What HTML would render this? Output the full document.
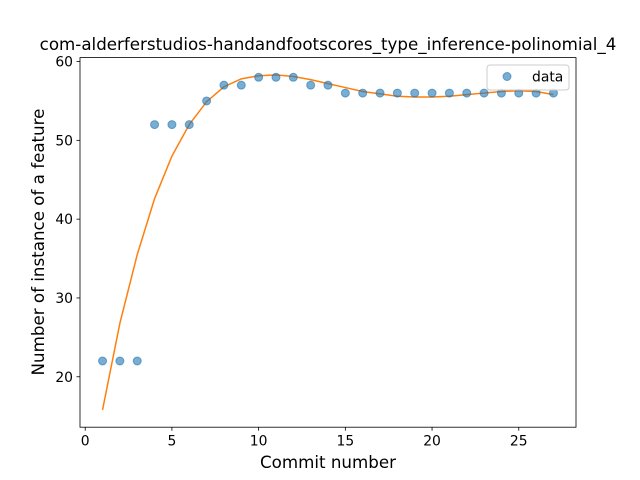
<!DOCTYPE html>
<html><head><meta charset="utf-8"><style>
body{margin:0;background:#fff;}
svg{display:block;font-family:"DejaVu Sans","Liberation Sans",sans-serif;}
</style></head><body>
<svg id="chart" width="640" height="480"></svg>
<script>
const xs=[1,2,3,4,5,6,7,8,9,10,11,12,13,14,15,16,17,18,19,20,21,22,23,24,25,26,27];
const dataVals=[22,22,22,52,52,52,55,57,57,58,58,58,57,57,56,56,56,56,56,56,56,56,56,56,56,56,56];
const fitVals=[15.8,26.8,35.5,42.6,48.0,52.0,54.9,56.8,57.8,58.2,58.3,58.1,57.7,57.2,56.7,56.2,55.9,55.6,55.5,55.5,55.6,55.8,56.0,56.2,56.3,56.2,55.8];
const xTicks=[0,5,10,15,20,25];
const yTicks=[20,30,40,50,60];
const L=80,R=576,T=57.6,B=427.2,xmin=-0.3,xmax=28.3,ymin=13.6,ymax=60.5;
const X=v=>L+(v-xmin)/(xmax-xmin)*(R-L);
const Y=v=>B-(v-ymin)/(ymax-ymin)*(B-T);
const svg=document.getElementById('chart');
const NS='http://www.w3.org/2000/svg';
function mk(tag,attrs,parent){const e=document.createElementNS(NS,tag);for(const k in attrs)e.setAttribute(k,attrs[k]);(parent||svg).appendChild(e);return e;}
let d=xs.map((x,i)=>(i?'L':'M')+X(x)+','+Y(fitVals[i])).join('');
const line=mk('path',{d:d,fill:'none',stroke:'#ff7f0e','stroke-width':1.5});


xs.forEach((x,i)=>{const c=mk('circle',{cx:X(x),cy:Y(dataVals[i]),r:4,fill:'#1f77b4','fill-opacity':0.6,stroke:'#1f77b4','stroke-opacity':0.6});

});
const frame=mk('rect',{x:L,y:T,width:R-L,height:B-T,fill:'none',stroke:'#000','stroke-width':0.8});


xTicks.forEach(t=>{mk('line',{x1:X(t),x2:X(t),y1:B,y2:B+3.5,stroke:'#000','stroke-width':0.8});
const tx=mk('text',{x:X(t),y:B+18.5,'font-size':13.9,'text-anchor':'middle'});tx.textContent=t;

});
yTicks.forEach(t=>{mk('line',{x1:L-3.5,x2:L,y1:Y(t),y2:Y(t),stroke:'#000','stroke-width':0.8});
const tx=mk('text',{x:L-7,y:Y(t)+5,'font-size':13.9,'text-anchor':'end'});tx.textContent=t;

});
</script>
<div style="position:absolute;left:0;top:0;width:640px;height:480px;pointer-events:none">
<svg width="640" height="480" style="position:absolute;left:0;top:0">
<text x="328" y="50" font-size="16.7" text-anchor="middle" font-family="DejaVu Sans, sans-serif">com-alderferstudios-handandfootscores_type_inference-polinomial_4</text>
<text x="328" y="468" font-size="16.7" text-anchor="middle" font-family="DejaVu Sans, sans-serif">Commit number</text>
<text transform="translate(44,242) rotate(-90)" font-size="16.7" text-anchor="middle" font-family="DejaVu Sans, sans-serif">Number of instance of a feature</text>
<g>
<rect x="487" y="65" width="82" height="25" rx="3" fill="#fff" fill-opacity="0.8" stroke="#ccc"/>
<circle cx="507" cy="76.5" r="4" fill="#1f77b4" fill-opacity="0.6" stroke="#1f77b4" stroke-opacity="0.6"/>
<text x="532" y="81.5" font-size="13.9" font-family="DejaVu Sans, sans-serif">data</text>
</g>
</svg></div>
</body></html>
